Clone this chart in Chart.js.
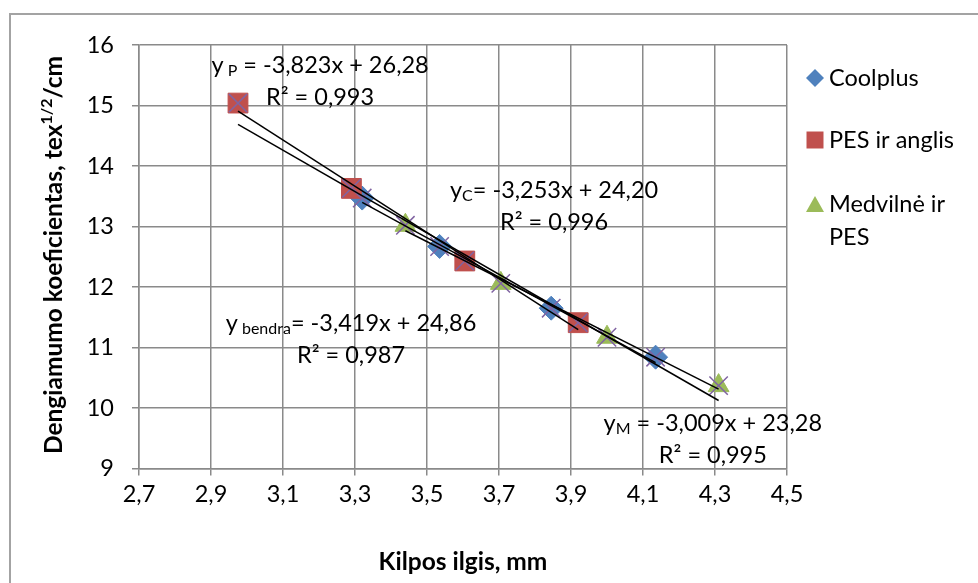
<!DOCTYPE html>
<html>
<head>
<meta charset="utf-8">
<script src="https://cdn.jsdelivr.net/npm/chart.js@4.4.1/dist/chart.umd.min.js"></script>
<style>
body { margin: 0; background: #fff; }
#wrap { position: relative; width: 978px; height: 583px; overflow: hidden; }
#frame { position: absolute; left: 9px; top: 13px; width: 1000px; height: 600px;
  border-left: 2px solid #a3a3a3; border-top: 2px solid #a3a3a3; }
canvas { position: absolute; left: 0; top: 0; }
</style>
</head>
<body>
<div id="wrap">
  <div id="frame"></div>
  <canvas id="chart" width="978" height="583"></canvas>
</div>
<script>
var xTicks = [2.7, 2.9, 3.1, 3.3, 3.5, 3.7, 3.9, 4.1, 4.3, 4.5]
var yTicks = [9, 10, 11, 12, 13, 14, 15, 16]

var coolplusX = [3.32, 3.535, 3.845, 4.135]
var coolplusY = [13.47, 12.67, 11.65, 10.84]
var pesX = [2.975, 3.29, 3.605, 3.92]
var pesY = [15.04, 13.63, 12.43, 11.41]
var medvX = [3.44, 3.705, 4.0, 4.31]
var medvY = [13.02, 12.06, 11.17, 10.37]

// trendlines as printed on the chart: P, C, bendra, M
var trendSlope = [-3.823, -3.253, -3.419, -3.009]
var trendIntercept = [26.28, 24.20, 24.86, 23.28]

var allX = coolplusX.concat(pesX, medvX)
var allY = coolplusY.concat(pesY, medvY)

var font = 'Lato, "Open Sans", sans-serif'

function toPoints(xs, ys) {
    return xs.map(function (x, i) { return { x: x, y: ys[i] } })
}

function trendPoints(xs, k, b) {
    var lo = Math.min.apply(null, xs)
    var hi = Math.max.apply(null, xs)
    return [{ x: lo, y: k * lo + b }, { x: hi, y: k * hi + b }]
}

function trendSet(xs, i) {
    return {
        data: trendPoints(xs, trendSlope[i], trendIntercept[i]),
        showLine: true,
        borderColor: '#000',
        borderWidth: 1.5,
        pointRadius: 0,
        order: 0
    }
}

// equation labels, anchored in data units (centre of first line)
var notes = [
    { x: 3.203, y: 15.67, parts: [['y', 0], [' P', 1], [' = -3,823x + 26,28', 0]], r2: 'R\u00b2 = 0,993' },
    { x: 3.853, y: 13.60, parts: [['y', 0], ['C', 1], ['= -3,253x + 24,20', 0]], r2: 'R\u00b2 = 0,996' },
    { x: 3.289, y: 11.40, parts: [['y', 0], [' bendra', 1], ['= -3,419x + 24,86', 0]], r2: 'R\u00b2 = 0,987' },
    { x: 4.294, y: 9.75, parts: [['y', 0], ['M', 1], [' = -3,009x + 23,28', 0]], r2: 'R\u00b2 = 0,995' }
]

var legendItems = [
    { style: 'diamond', color: '#4F81BD', lines: ['Coolplus'], y: 78 },
    { style: 'square', color: '#C0504D', lines: ['PES ir anglis'], y: 140 },
    { style: 'triangle', color: '#9BBB59', lines: ['Medviln\u0117 ir', 'PES'], y: 204 }
]

var textPlugin = {
    id: 'texts',
    afterDraw: function (chart) {
        var ctx = chart.ctx
        var xs = chart.scales.x, ys = chart.scales.y
        ctx.save()
        ctx.fillStyle = '#000'
        ctx.textBaseline = 'middle'

        notes.forEach(function (n) {
            var cx = xs.getPixelForValue(n.x)
            var cy = ys.getPixelForValue(n.y)
            var w = 0
            n.parts.forEach(function (p) {
                ctx.font = (p[1] ? '16px ' : '23.5px ') + font
                w += ctx.measureText(p[0]).width
            })
            var px = cx - w / 2
            ctx.textAlign = 'left'
            n.parts.forEach(function (p) {
                ctx.font = (p[1] ? '16px ' : '23.5px ') + font
                ctx.fillText(p[0], px, cy + (p[1] ? 6 : 0))
                px += ctx.measureText(p[0]).width
            })
            ctx.font = '23.5px ' + font
            ctx.textAlign = 'center'
            ctx.fillText(n.r2, cx, cy + 32)
        })

        // y axis title with superscript
        ctx.translate(54, 255)
        ctx.rotate(-Math.PI / 2)
        var segs = [['Dengiamumo koeficientas, tex', 0], ['1/2', 1], ['/cm', 0]]
        var tw = 0
        segs.forEach(function (s) {
            ctx.font = 'bold ' + (s[1] ? '16px ' : '24.5px ') + font
            tw += ctx.measureText(s[0]).width
        })
        var sx = -tw / 2
        ctx.textAlign = 'left'
        segs.forEach(function (s) {
            ctx.font = 'bold ' + (s[1] ? '16px ' : '24.5px ') + font
            ctx.fillText(s[0], sx, s[1] ? -7 : 0)
            sx += ctx.measureText(s[0]).width
        })
        ctx.setTransform(1, 0, 0, 1, 0, 0)

        // legend
        legendItems.forEach(function (it) {
            var mx = 815, my = it.y
            ctx.fillStyle = it.color
            ctx.beginPath()
            if (it.style === 'diamond') {
                ctx.moveTo(mx, my - 9); ctx.lineTo(mx + 9, my)
                ctx.lineTo(mx, my + 9); ctx.lineTo(mx - 9, my)
            } else if (it.style === 'square') {
                ctx.rect(mx - 8.5, my - 8.5, 17, 17)
            } else {
                ctx.moveTo(mx, my - 8); ctx.lineTo(mx + 9, my + 8)
                ctx.lineTo(mx - 9, my + 8)
            }
            ctx.closePath()
            ctx.fill()
            ctx.fillStyle = '#000'
            ctx.font = '23.5px ' + font
            it.lines.forEach(function (l, k) {
                ctx.fillText(l, 829, my + k * 33)
            })
        })
        ctx.restore()
    }
}

var gridColor = '#8a8a8a'

var ctx = document.getElementById('chart').getContext('2d')
var chart = new Chart(ctx, {
    type: 'scatter',
    data: {
        datasets: [
            trendSet(pesX, 0),
            trendSet(coolplusX, 1),
            trendSet(allX, 2),
            trendSet(medvX, 3),
            {
                label: 'bendra',
                data: toPoints(allX, allY),
                pointStyle: 'crossRot',
                pointRadius: 13,
                borderColor: '#8064A2',
                borderWidth: 1.5,
                order: 1
            },
            {
                label: 'Medvilnė ir PES',
                data: toPoints(medvX, medvY),
                pointStyle: 'triangle',
                pointRadius: 12,
                backgroundColor: '#9BBB59',
                borderColor: '#9BBB59',
                borderWidth: 1,
                order: 2
            },
            {
                label: 'PES ir anglis',
                data: toPoints(pesX, pesY),
                pointStyle: 'rect',
                pointRadius: 14,
                backgroundColor: '#C0504D',
                borderColor: '#C0504D',
                borderWidth: 1,
                order: 3
            },
            {
                label: 'Coolplus',
                data: toPoints(coolplusX, coolplusY),
                pointStyle: 'rectRot',
                pointRadius: 12,
                backgroundColor: '#4F81BD',
                borderColor: '#4F81BD',
                borderWidth: 1,
                order: 4
            }
        ]
    },
    options: {
        responsive: false,
        animation: false,
        devicePixelRatio: 1,
        layout: { padding: { left: 0, top: 45, right: 191, bottom: 0 } },
        plugins: {
            legend: { display: false },
            tooltip: { enabled: false }
        },
        scales: {
            x: {
                type: 'linear',
                min: 2.7,
                max: 4.5,
                afterBuildTicks: function (s) { s.ticks = xTicks.map(function (v) { return { value: v } }) },
                afterFit: function (s) { s.height = 114.5 },
                grid: { color: gridColor, lineWidth: 1.5, tickLength: 7, tickColor: gridColor },
                border: { color: gridColor, width: 1.5 },
                ticks: {
                    color: '#000',
                    padding: 5,
                    maxRotation: 0,
                    font: { family: font, size: 23.5 },
                    callback: function (v) { return v.toFixed(1).replace('.', ',') }
                },
                title: {
                    display: true,
                    text: 'Kilpos ilgis, mm',
                    color: '#000',
                    padding: { top: 0, bottom: 6 },
                    font: { family: font, size: 24.5, weight: 'bold' }
                }
            },
            y: {
                type: 'linear',
                min: 9,
                max: 16,
                afterBuildTicks: function (s) { s.ticks = yTicks.map(function (v) { return { value: v } }) },
                afterFit: function (s) { s.width = 139 },
                grid: { color: gridColor, lineWidth: 1.5, tickLength: 7, tickColor: gridColor },
                border: { color: gridColor, width: 1.5 },
                ticks: {
                    color: '#000',
                    padding: 18,
                    font: { family: font, size: 23.5 }
                }
            }
        }
    },
    plugins: [textPlugin]
})
</script>
</body>
</html>
